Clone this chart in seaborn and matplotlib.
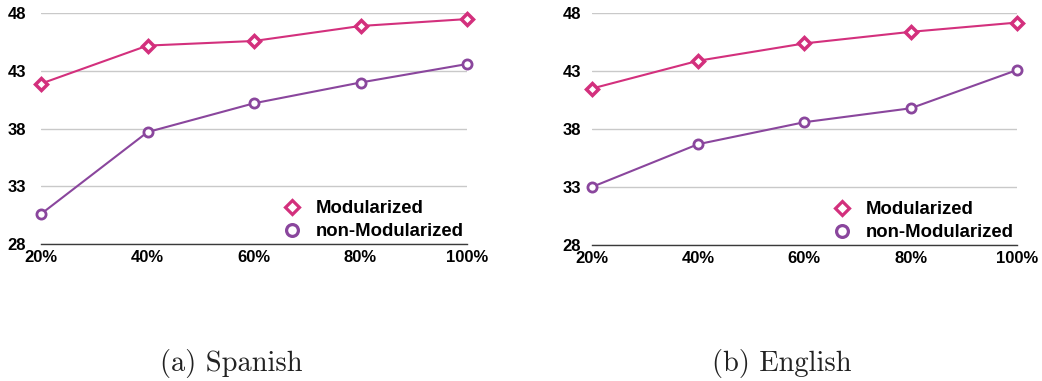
import matplotlib
matplotlib.use("Agg")
import matplotlib.pyplot as plt
from matplotlib.lines import Line2D
import numpy as np
import pandas as pd
import seaborn as sns

# Fraction of training data used
fractions = ["20%", "40%", "60%", "80%", "100%"]

# Scores per language and model variant
spanish_modularized = [41.9, 45.2, 45.6, 46.9, 47.5]
spanish_non_modularized = [30.6, 37.7, 40.2, 42.0, 43.6]
english_modularized = [41.5, 43.9, 45.4, 46.4, 47.2]
english_non_modularized = [33.0, 36.7, 38.6, 39.8, 43.1]

y_ticks = [28, 33, 38, 43, 48]
series_names = ["Modularized", "non-Modularized"]
captions = ["(a) Spanish", "(b) English"]

MAGENTA = "#D3307D"
PURPLE = "#8A469D"
palette = {"Modularized": MAGENTA, "non-Modularized": PURPLE}
marker_map = {"Modularized": "D", "non-Modularized": "o"}

sns.set_style("white")
plt.rcParams["font.family"] = ["Liberation Sans", "DejaVu Sans"]
plt.rcParams["font.weight"] = "bold"


def long_frame(mod, non_mod):
    rows = []
    for name, vals in zip(series_names, [mod, non_mod]):
        for i, v in enumerate(vals):
            rows.append({"pos": i, "score": v, "series": name})
    return pd.DataFrame(rows)


frames = [
    long_frame(spanish_modularized, spanish_non_modularized),
    long_frame(english_modularized, english_non_modularized),
]

fig = plt.figure(figsize=(10.42, 3.81), dpi=100)
W, H = 1042, 381
# panel placement in pixels: (left, right, top, bottom)
panels = [(41, 467, 13.3, 244), (591.7, 1017, 13.3, 245)]
ytick_pads = [10.8, 7.7]
caption_x = [231.5, 782]

for k, (df, (l, r, t, b)) in enumerate(zip(frames, panels)):
    ax = fig.add_axes([l / W, 1 - b / H, (r - l) / W, (b - t) / H])
    ax.set_xlim(0, 4)
    ax.set_ylim(28, 48)
    ax.set_yticks(y_ticks)
    ax.set_xticks(range(len(fractions)))
    ax.set_xticklabels(fractions)
    ax.yaxis.grid(True, color="#c9c9c9", linewidth=1.0)
    ax.xaxis.grid(False)
    ax.set_axisbelow(True)
    for s in ["top", "left", "right"]:
        ax.spines[s].set_visible(False)
    ax.spines["bottom"].set_color("#3a3a3a")
    ax.spines["bottom"].set_linewidth(1.0)
    ax.tick_params(axis="y", length=0, pad=ytick_pads[k], labelsize=12)
    ax.tick_params(axis="x", length=0, pad=4, labelsize=12)
    for lab in ax.get_xticklabels() + ax.get_yticklabels():
        lab.set_fontweight("bold")
        lab.set_color("#000000")

    for name in series_names:
        sub = df[df["series"] == name]
        is_diamond = marker_map[name] == "D"
        sns.lineplot(
            data=sub, x="pos", y="score", ax=ax, color=palette[name],
            marker=marker_map[name], linewidth=1.5,
            markersize=6.0 if is_diamond else 6.6,
            markeredgewidth=2.5 if is_diamond else 2.0,
            markerfacecolor="white", markeredgecolor=palette[name],
            legend=False,
        )
    for line in ax.lines:
        line.set_clip_on(False)
    ax.set_xlabel("")
    ax.set_ylabel("")

    handles = [
        Line2D([], [], linestyle="none", marker="D", markersize=7.5,
               markeredgewidth=2.3, markerfacecolor="white",
               markeredgecolor=MAGENTA, label=series_names[0]),
        Line2D([], [], linestyle="none", marker="o", markersize=8.5,
               markeredgewidth=2.3, markerfacecolor="white",
               markeredgecolor=PURPLE, label=series_names[1]),
    ]
    leg = ax.legend(
        handles=handles, loc="upper left", bbox_to_anchor=(0.567, 0.19),
        frameon=False, borderpad=0, borderaxespad=0, handlelength=1.0,
        handletextpad=0.8, labelspacing=0.33,
        prop={"family": ["Liberation Sans"], "weight": "bold", "size": 13.3},
    )
    for txt in leg.get_texts():
        txt.set_color("#000000")

    fig.text(caption_x[k] / W, 1 - 364 / H, captions[k], ha="center",
             va="center", fontsize=20.5, family=["cmr10", "DejaVu Serif"],
             fontweight="normal", color="#222222")

fig.savefig("out.png", dpi=100)
